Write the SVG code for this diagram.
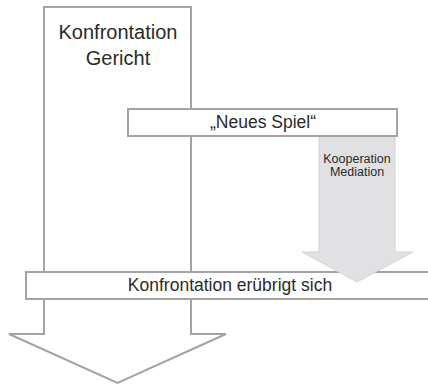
<svg xmlns="http://www.w3.org/2000/svg" width="428" height="385" viewBox="0 0 428 385">
  <style>
    .outline { fill: #ffffff; stroke: #a3a3a3; stroke-width: 2; stroke-linejoin: miter; }
    .shade { fill: #e1e1e3; stroke: #d2d2d5; stroke-width: 1; }
    text { font-family: "Liberation Sans", Arial, sans-serif; fill: #2a2a2a; text-anchor: middle; }
  </style>
  <rect width="428" height="385" fill="#ffffff"/>

  <!-- main confrontation arrow -->
  <g id="konfrontation">
    <polygon class="outline" points="44,7 191,7 191,334 226,334 117.5,383 9,334 44,334"/>
    <text x="118" y="39" font-size="20">Konfrontation</text>
    <text x="118" y="65" font-size="20">Gericht</text>
  </g>

  <g id="erubrigt">
    <rect class="outline" x="26" y="272" width="412" height="27"/>
    <text x="230" y="291" font-size="17.5">Konfrontation erübrigt sich</text>
  </g>

  <!-- cooperation arrow, its head reaching over the bottom bar -->
  <g id="kooperation">
    <polygon class="shade" points="319,136 395,136 395,252 413,252 357,282 302,252 319,252"/>
    <text x="357" y="163" font-size="12.5">Kooperation</text>
    <text x="357" y="176" font-size="12.5">Mediation</text>
  </g>

  <g id="neues-spiel">
    <rect class="outline" x="128" y="109" width="269" height="27"/>
    <text x="263" y="128" font-size="17.5">„Neues Spiel“</text>
  </g>

  <g id="connectors"></g>
</svg>
